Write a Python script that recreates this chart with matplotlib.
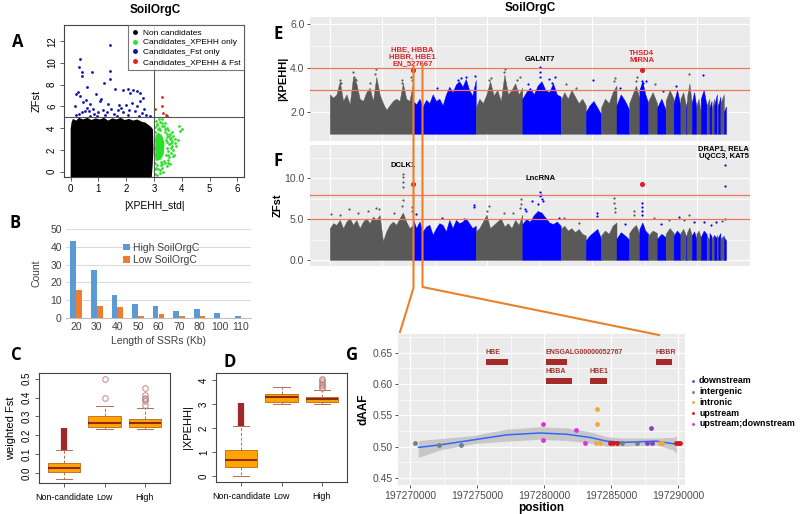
import numpy as np
import matplotlib
matplotlib.use('Agg')
import matplotlib.pyplot as plt
from matplotlib.lines import Line2D

plt.rcParams['font.family'] = ['Liberation Sans', 'DejaVu Sans']

# ---------------- panel A data ----------------
nc_edge_x = [0.0, 0.0, 0.03, 0.08, 0.2, 0.3, 0.45, 0.6, 0.75, 0.9, 1.05, 1.2, 1.35, 1.5, 1.65,
             1.8, 1.95, 2.1, 2.25, 2.4, 2.55, 2.7, 2.8, 2.9, 2.96, 2.98, 2.95, 2.92]
nc_edge_y = [-0.5, 3.9, 4.5, 4.85, 4.7, 4.95, 4.8, 4.95, 4.75, 4.9, 4.8, 4.95, 4.7, 4.9, 4.8,
             4.95, 4.75, 4.85, 4.7, 4.8, 4.6, 4.5, 4.3, 4.1, 3.9, 2.0, 0.5, -0.5]
green_core_x = [3.05, 3.05, 3.15, 3.3, 3.38, 3.35, 3.25]
green_core_y = [1.0, 3.3, 3.6, 3.3, 2.6, 1.6, 1.1]
green_x = [4.0, 3.9, 3.7, 3.75, 3.65, 3.55, 3.6, 3.55, 3.5, 3.45, 3.3, 3.2, 3.1, 3.5, 3.4, 3.3,
           3.2, 3.1, 3.05, 3.6, 3.8, 3.7, 3.45, 3.35, 3.25, 3.15, 3.42, 3.6, 3.38, 3.52, 3.48, 3.02,
           3.08, 3.22, 3.47, 3.56, 3.62, 3.68, 3.44, 3.5, 3.33, 3.12, 3.18, 3.27, 3.05, 3.58,
           3.02, 3.04, 3.03, 3.02, 3.04, 3.1, 3.12, 3.4, 3.45, 3.38, 3.28, 3.36, 3.14, 3.22,
           3.5, 3.55, 3.63, 3.72, 3.85, 3.92, 3.58, 3.3, 3.24, 3.08, 3.18, 3.45, 3.66, 3.77]
green_y = [3.9, 4.2, 3.3, 3.0, 2.8, 2.5, 1.7, 1.3, 0.8, 0.5, 0.3, -0.1, -0.3, 3.8, 4.5, 4.8,
           4.6, 4.4, 4.1, 2.2, 2.4, 2.0, 3.5, 1.0, 0.6, 0.2, 2.9, 3.1, 3.9, 1.9, 3.2, -0.2,
           0.3, 0.1, 2.7, 3.5, 2.6, 1.4, 1.5, 1.1, 0.0, 4.3, 4.0, 4.2, 0.2, 3.0,
           0.8, 1.5, 2.2, 2.9, 3.6, 0.6, 1.2, 3.6, 2.2, 0.8, 4.5, 4.2, 3.95, 3.8,
           1.5, 3.3, 2.4, 1.5, 2.9, 3.7, 0.7, 0.7, 0.9, 4.7, 4.85, 4.0, 3.6, 2.6]
blue_x = [1.4, 0.35, 0.3, 0.42, 0.75, 1.4, 0.4, 1.4, 1.2, 1.6, 0.6, 0.25, 0.2, 0.35, 0.9, 1.1,
          0.55, 0.45, 1.9, 2.05, 2.15, 2.25, 2.4, 2.5, 2.6, 1.05, 0.7, 0.6, 0.5, 0.4, 0.3, 0.65,
          0.8, 0.85, 1.0, 1.15, 1.3, 1.45, 1.55, 1.7, 1.8, 1.9, 2.0, 2.1, 2.2, 2.3, 2.4, 2.5,
          2.55, 2.65, 2.7, 0.2, 0.95, 1.25, 1.65, 2.05, 2.45, 1.35, 1.75, 0.7, 2.85, 0.15]
blue_y = [11.7, 10.4, 9.6, 9.2, 9.15, 9.3, 8.8, 8.5, 8.2, 7.6, 7.8, 7.3, 7.1, 7.0, 7.1, 6.7,
          6.6, 6.4, 7.5, 7.6, 7.2, 7.5, 7.4, 7.2, 6.8, 6.5, 6.2, 5.9, 5.6, 5.5, 5.3, 5.6,
          5.8, 5.3, 5.5, 5.7, 5.5, 5.8, 5.3, 5.7, 5.9, 5.5, 6.1, 5.7, 6.3, 5.6, 6.0, 6.5,
          5.4, 5.8, 5.2, 5.2, 5.1, 5.2, 5.1, 5.2, 5.1, 6.2, 6.1, 5.1, 5.1, 6.0]
red_x = [3.04, 3.3, 3.28, 3.33, 3.42, 3.48]
red_y = [5.75, 6.86, 6.06, 5.38, 5.23, 5.08]

# ---------------- panel B data ----------------
ssr_len = ['20', '30', '40', '50', '60', '70', '80', '100', '110']
high_count = [43, 27, 13, 8, 7, 4, 5, 3, 1]
low_count = [16, 7, 6, 1, 2, 1, 1, 0, 0]

# ---------------- panel C / D data ----------------
groups = ['Non-candidate', 'Low', 'High']
fst_box = [  # whislo, q1, med, q3, whishi
    [-0.03, 0.005, 0.025, 0.052, 0.12],
    [0.235, 0.245, 0.265, 0.305, 0.355],
    [0.235, 0.245, 0.263, 0.287, 0.345],
]
fst_out_low = [0.40, 0.50]
fst_out_high = [0.36, 0.38, 0.39, 0.40, 0.415, 0.45]
fst_nc_out = [0.12, 0.24]
xp_box = [
    [0.0, 0.38, 0.65, 1.07, 2.08],
    [3.0, 3.1, 3.27, 3.43, 3.72],
    [3.0, 3.1, 3.2, 3.3, 3.6],
]
xp_out_high = [3.68, 3.72, 3.78, 3.85, 3.92, 4.0, 4.05]
xp_nc_out = [2.08, 3.05]

# ---------------- panel E / F data ----------------
chrom_mb = [197.6, 149.7, 110.8, 91.3, 59.8, 36.4, 36.7, 30.2, 24.2, 21.1, 21.0, 20.4, 19.0, 16.2,
            13.1, 2.8, 11.0, 11.2, 10.3, 13.9, 6.8, 5.0, 6.2, 6.5, 3.1, 5.3, 8.2, 5.1]
xp_profile = [
    [2.8, 2.65, 2.8, 3.4, 2.5, 2.8, 2.35, 3.6, 3.3, 2.6, 2.5, 2.9, 3.1, 2.5, 3.6, 2.8,
     2.4, 2.1, 2.3, 2.5, 2.6, 2.5, 3.3, 2.6, 2.5, 3.3],
    [2.5, 2.35, 2.6, 2.25, 2.55, 2.4, 2.8, 2.5, 2.6, 2.3, 2.8, 3.15, 2.9, 3.25, 3.4, 3.15,
     3.5, 3.0, 2.75, 3.45],
    [2.2, 2.6, 2.4, 2.8, 3.4, 2.75, 3.0, 2.5, 3.7, 2.8, 3.0, 3.3, 2.8, 3.1],
    [2.6, 2.9, 3.1, 2.8, 3.2, 3.4, 3.0, 2.9, 3.3, 2.8, 2.7],
    [2.5, 2.9, 2.6, 3.0, 2.7, 2.4, 2.6, 2.3],
    [2.0, 2.3, 2.5, 2.2, 1.9], [2.2, 2.6, 2.4, 2.9, 3.2], [2.3, 2.8, 2.5, 2.1],
    [2.4, 2.8, 3.2, 2.6], [3.0, 3.4, 2.8, 2.4], [2.5, 2.9, 2.4], [2.2, 2.6, 2.1],
    [2.5, 3.0, 2.6], [2.4, 3.0, 2.3], [2.6, 2.9, 2.3], [2.2, 2.5], [2.7, 3.3, 2.4],
    [2.4, 2.9, 2.2], [2.3, 2.6, 2.0], [2.6, 3.0, 2.3], [2.3, 2.6], [2.2, 2.5],
    [2.1, 2.6], [2.3, 2.8], [2.0, 2.4], [2.3, 2.7], [2.4, 2.8], [2.0, 2.25],
]
xp_dots = [  # chromosome, fraction along it, value
    (1, 0.12, 3.45), (1, 0.14, 3.3), (1, 0.28, 3.8), (1, 0.29, 3.6), (1, 0.3, 3.5),
    (1, 0.32, 3.45), (1, 0.48, 3.3), (1, 0.55, 3.75), (1, 0.56, 3.97), (1, 0.87, 3.3),
    (1, 0.87, 3.45), (1, 0.98, 3.6), (1, 0.99, 3.45),
    (2, 0.38, 3.1), (2, 0.72, 3.45), (2, 0.77, 3.55), (2, 0.84, 3.6), (2, 0.99, 3.65),
    (3, 0.28, 3.45), (3, 0.32, 3.55), (3, 0.6, 3.8), (3, 0.62, 3.97), (3, 0.88, 3.45),
    (3, 0.95, 3.6),
    (4, 0.16, 3.25), (4, 0.47, 3.6), (4, 0.47, 3.8), (4, 0.47, 4.05), (4, 0.69, 3.5),
    (4, 0.78, 3.3), (4, 0.85, 3.6),
    (5, 0.2, 3.25), (5, 0.6, 3.1), (6, 0.49, 3.45), (7, 0.85, 3.4), (7, 0.89, 3.55),
    (8, 0.3, 3.1), (9, 0.7, 3.4), (9, 0.73, 3.6), (10, 0.29, 3.4), (10, 0.4, 3.3),
    (10, 0.71, 3.4), (11, 0.77, 3.25), (12, 0.71, 2.95), (14, 0.4, 3.2), (17, 0.5, 3.75),
    (20, 0.4, 3.7),
]
fst_profile = [
    [3.9, 4.5, 4.3, 4.9, 3.9, 4.7, 5.1, 4.3, 4.9, 3.9, 4.7, 5.1, 4.5, 5.3, 4.9, 5.5,
     2.3, 3.5, 4.3, 4.7, 4.3, 5.1, 5.8, 4.7, 3.9, 4.3],
    [5.1, 3.9, 4.7, 3.5, 4.1, 4.3, 3.1, 3.9, 4.5, 4.3, 3.5, 4.9, 3.9, 4.9, 4.5, 4.7,
     5.1, 4.5, 3.9, 4.2],
    [3.5, 3.9, 4.7, 5.55, 3.9, 4.3, 4.7, 5.1, 4.1, 4.5, 3.9, 4.9, 4.3, 5.55],
    [4.4, 5.0, 4.7, 5.5, 6.0, 5.8, 5.2, 4.6, 4.4, 4.7, 4.2],
    [3.8, 4.2, 3.6, 3.9, 3.4, 3.8, 3.2, 3.0],
    [2.4, 3.0, 3.4, 3.8, 2.6], [3.0, 3.6, 3.2, 4.2, 4.6], [2.6, 3.4, 3.0, 2.5],
    [3.3, 3.9, 4.3, 3.2], [3.8, 4.6, 3.6, 3.2], [3.0, 3.6, 3.3], [2.6, 3.2, 2.8],
    [3.2, 3.9, 3.3], [3.0, 3.6, 3.1], [3.3, 3.8, 3.0], [2.8, 3.2], [3.4, 4.0, 3.0],
    [3.0, 3.5, 2.6], [3.2, 3.6, 2.8], [2.8, 3.6, 3.2], [3.0, 2.5], [3.3, 2.9],
    [2.6, 3.1], [3.0, 2.7], [3.1, 2.6], [2.8, 3.3], [2.6, 3.0], [2.8, 2.4],
]
fst_dots = [
    (1, 0.02, 5.6), (1, 0.12, 5.5), (1, 0.23, 6.2), (1, 0.34, 5.8), (1, 0.46, 6.0),
    (1, 0.56, 6.4), (1, 0.59, 6.2), (1, 0.77, 5.8), (1, 0.87, 6.6), (1, 0.88, 7.3),
    (1, 0.885, 10.5), (1, 0.885, 10.1), (1, 0.885, 9.5), (1, 0.885, 8.9),
    (1, 0.99, 6.5), (1, 0.995, 6.0),
    (2, 0.05, 5.6), (2, 0.47, 5.1), (2, 0.82, 5.0), (2, 0.97, 6.5), (2, 0.98, 6.7),
    (3, 0.25, 6.0), (3, 0.28, 6.6), (3, 0.6, 5.8), (3, 0.8, 5.7), (3, 0.96, 6.4),
    (3, 0.97, 6.9), (3, 0.98, 7.4),
    (4, 0.07, 6.2), (4, 0.1, 6.0), (4, 0.25, 7.2), (4, 0.4, 6.8), (4, 0.45, 8.3),
    (4, 0.47, 7.8), (4, 0.5, 8.0), (4, 0.52, 7.5), (4, 0.55, 7.2), (4, 0.96, 5.1),
    (5, 0.13, 5.1), (5, 0.73, 4.5), (6, 0.73, 5.4), (6, 0.73, 5.75),
    (7, 0.85, 7.0), (7, 0.85, 7.6), (7, 0.88, 6.3), (7, 0.9, 5.9), (8, 0.63, 4.4),
    (9, 0.5, 5.5), (9, 0.5, 6.0), (10, 0.29, 5.5), (10, 0.29, 6.0), (10, 0.29, 6.5),
    (10, 0.29, 7.0), (11, 0.64, 5.1), (12, 0.43, 4.4), (13, 0.42, 4.9), (14, 0.8, 5.3),
    (15, 0.6, 4.9), (17, 0.44, 5.55), (18, 0.5, 4.6), (20, 0.5, 4.6), (22, 0.5, 4.3),
    (24, 0.5, 4.7), (27, 0.5, 4.8), (28, 0.5, 5.0), (28, 0.5, 9.1), (28, 0.5, 11.6),
]
xp_hits = [(1, 0.998, 3.9), (10, 0.29, 3.93)]
fst_hits = [(1, 0.998, 9.34), (10, 0.29, 9.34)]

# ---------------- panel G data ----------------
snp_pos = [197270373, 197272161, 197273776, 197279938, 197279938, 197282373, 197283043,
           197283863, 197283988, 197283988, 197284161, 197284907, 197285155, 197285478,
           197285851, 197286969, 197287689, 197288012, 197288062, 197288634, 197288832,
           197289876, 197290000, 197290124]
snp_daaf = [0.5054, 0.5027, 0.5027, 0.536, 0.5113, 0.5274, 0.5054,
            0.5054, 0.5608, 0.536, 0.5054, 0.5054, 0.5054, 0.5054,
            0.5054, 0.5054, 0.5054, 0.5301, 0.5054, 0.5054, 0.5054,
            0.5054, 0.5054, 0.5054]
snp_type = ['intergenic', 'intergenic', 'intergenic', 'upstream;downstream', 'upstream;downstream',
            'upstream;downstream', 'upstream;downstream', 'intronic', 'intronic', 'intronic',
            'intronic', 'upstream', 'upstream', 'upstream', 'intergenic', 'intergenic',
            'downstream', 'downstream', 'downstream', 'intronic', 'intronic',
            'upstream', 'upstream', 'upstream']
type_names = ['downstream', 'intergenic', 'intronic', 'upstream', 'upstream;downstream']
type_colors = ['#7E44C4', '#6F7F8F', '#F2A93B', '#D2181C', '#E030E0']
fit_pos = [197270621, 197272236, 197274720, 197277205, 197279689, 197281677, 197283416,
           197284658, 197285901, 197287143, 197288385, 197289627, 197289876]
fit_y = [0.499, 0.503, 0.511, 0.519, 0.522, 0.520, 0.515, 0.509, 0.507, 0.508, 0.509, 0.505, 0.504]
fit_hi = [0.510, 0.513, 0.518, 0.528, 0.532, 0.530, 0.524, 0.516, 0.514, 0.514, 0.514, 0.515, 0.517]
fit_lo = [0.483, 0.495, 0.505, 0.509, 0.512, 0.510, 0.506, 0.501, 0.501, 0.502, 0.503, 0.495, 0.490]
gene_names = ['HBE', 'ENSGALG00000052767', 'HBBR', 'HBBA', 'HBE1']
gene_start = [197275665, 197280112, 197288335, 197280112, 197283416]
gene_end = [197277330, 197281677, 197289553, 197282100, 197284708]
gene_row = [0.635, 0.635, 0.635, 0.605, 0.605]

W, H = 800, 514
fig = plt.figure(figsize=(8, 5.14), dpi=100)


def box(l, t, r, b):
    return fig.add_axes([l / W, 1 - b / H, (r - l) / W, (b - t) / H])


def r_style(ax):
    for s in ax.spines.values():
        s.set_color('#444444')
        s.set_linewidth(0.8)
    ax.tick_params(labelsize=7, length=3, width=0.6, color='#444444', pad=2)
    for lab in ax.get_yticklabels():
        lab.set_rotation(90)
        lab.set_va('center')


def gg_style(ax):
    ax.set_facecolor('#EBEBEB')
    for s in ax.spines.values():
        s.set_visible(False)
    ax.tick_params(labelsize=7.5, length=2.5, width=0.6, color='#333333',
                   labelcolor='#4D4D4D', pad=1.5)


def panel_letter(x, y, s):
    fig.text(x / W, 1 - y / H, s, fontsize=12, fontweight='bold',
             family=['Open Sans', 'DejaVu Sans'], ha='center', va='center')


# ================= A =================
ax = box(64, 25, 244, 177)
ax.fill(nc_edge_x, nc_edge_y, color='black', lw=0, zorder=2)
ax.fill(green_core_x, green_core_y, color='#2BE02B', lw=0, zorder=2)
ax.scatter(green_x, green_y, s=4, color='#2BE02B', lw=0, zorder=3)
ax.scatter(blue_x, blue_y, s=4, color='#1010B0', lw=0, zorder=3)
ax.scatter(red_x, red_y, s=4, color='#DD2222', lw=0, zorder=3)
ax.axhline(5, color='#555555', lw=0.8, zorder=4)
ax.axvline(3, color='#555555', lw=0.8, zorder=4)
ax.set_xlim(-0.24, 6.24)
ax.set_ylim(-0.5, 13.5)
ax.set_xticks(range(0, 7))
ax.set_yticks(range(0, 13, 2))
r_style(ax)
ax.set_xlabel('|XPEHH_std|', fontsize=7.5, labelpad=5)
ax.set_ylabel('ZFst', fontsize=8, labelpad=4)
leg_h = [Line2D([], [], ls='', marker='o', ms=2.5, color=c)
         for c in ['black', '#2BE02B', '#1010B0', '#DD2222']]
lg = ax.legend(leg_h, ['Non candidates', 'Candidates_XPEHH only', 'Candidates_Fst only',
                       'Candidates_XPEHH & Fst'],
               loc='upper right', fontsize=6.0, frameon=True, fancybox=False,
               borderaxespad=0, handlelength=0.8, handletextpad=0.5, labelspacing=0.25,
               borderpad=0.45)
lg.get_frame().set_edgecolor('#555555')
lg.get_frame().set_linewidth(0.8)
fig.text(155 / W, 1 - 10 / H, 'SoilOrgC', fontsize=8.5, fontweight='bold', ha='center', va='center')

# ================= B =================
ax = box(66, 229, 251, 318)
idx = np.arange(len(ssr_len))
ax.bar(idx - 0.145, high_count, width=0.28, color='#5B9BD5', zorder=3, label='High SoilOrgC')
ax.bar(idx + 0.145, low_count, width=0.28, color='#ED7D31', zorder=3, label='Low SoilOrgC')
ax.set_xlim(-0.5, 8.5)
ax.set_ylim(0, 50)
ax.set_yticks(range(0, 51, 10))
ax.set_xticks(idx)
ax.set_xticklabels(ssr_len)
ax.grid(axis='y', color='#D9D9D9', lw=0.7, zorder=0)
for s in ['top', 'right', 'left']:
    ax.spines[s].set_visible(False)
ax.spines['bottom'].set_color('#BFBFBF')
ax.tick_params(length=0, labelsize=7.5, colors='#404040', pad=3)
ax.set_xlabel('Length of SSRs (Kb)', fontsize=7.5, color='#404040', labelpad=3)
ax.set_ylabel('Count', fontsize=7.5, color='#404040', labelpad=6)
ax.legend(loc='upper left', bbox_to_anchor=(0.26, 0.95), frameon=False, fontsize=7.5,
          handlelength=0.6, handleheight=0.6, handletextpad=0.3, labelspacing=0.2,
          labelcolor='#404040')

# ================= C & D =================
box_kw = dict(patch_artist=True, widths=0.8, showfliers=True,
              boxprops=dict(facecolor='#FFA500', edgecolor='#C8702A', lw=0.7),
              medianprops=dict(color='#8B2A10', lw=1.5),
              whiskerprops=dict(color='#B07050', lw=0.7, ls=(0, (3, 2))),
              capprops=dict(color='#B07050', lw=0.7),
              flierprops=dict(marker='o', mfc='none', mec='#C08585', ms=4, mew=0.7))


def draw_box(ax, rows, outs, nc_out):
    stats = []
    for g, r, o in zip(groups, rows, outs):
        stats.append(dict(label=g, whislo=r[0], q1=r[1], med=r[2], q3=r[3], whishi=r[4], fliers=o))
    ax.bxp(stats, positions=[1, 2, 3], **box_kw)
    ax.vlines(1, nc_out[0], nc_out[1], color='#A0282A', lw=4.5, zorder=4)
    ax.set_xlim(0.38, 3.62)


ax = box(39, 373, 170, 483)
draw_box(ax, fst_box, [[], fst_out_low, fst_out_high], fst_nc_out)
ax.set_ylim(-0.052, 0.53)
ax.set_yticks(np.arange(0, 0.51, 0.1))
ax.set_yticklabels(['0.0', '0.1', '0.2', '0.3', '0.4', '0.5'])
r_style(ax)
ax.tick_params(axis='x', labelsize=6.4, pad=4)
ax.set_ylabel('weighted Fst', fontsize=8, labelpad=4)

ax = box(216, 373, 347, 482)
draw_box(ax, xp_box, [[], [], xp_out_high], xp_nc_out)
ax.set_ylim(-0.25, 4.29)
ax.set_yticks(range(0, 5))
r_style(ax)
ax.tick_params(axis='x', labelsize=6.4, pad=4)
ax.set_ylabel('|XPEHH|', fontsize=8, labelpad=4)

# ================= E & F =================
starts = np.concatenate([[0], np.cumsum(chrom_mb)[:-1]])
total = sum(chrom_mb)
chrom_cols = ['#595959', '#0000FF']


def pos(c, f):
    return starts[c - 1] + f * chrom_mb[c - 1]


def manhattan(ax, profiles, dots, base):
    for i, prof in enumerate(profiles):
        col = chrom_cols[i % 2]
        xs = np.linspace(starts[i], starts[i] + chrom_mb[i], len(prof))
        ax.fill_between(xs, base, prof, color=col, lw=0.3, edgecolor=col, zorder=2)
    for c, f, h in dots:
        col = chrom_cols[(c - 1) % 2]
        ax.scatter([pos(c, f)], [h], s=2.5, color=col, lw=0, zorder=3)
    ax.set_xlim(-0.05 * total, 1.05 * total)
    ax.set_xticks(np.arange(0, total + 60, 125))
    ax.set_xticklabels([])
    ax.tick_params(axis='x', length=0)
    ax.grid(axis='x', color='white', lw=0.8, zorder=0)
    ax.set_axisbelow(True)


ax = box(310, 17, 750, 141)
gg_style(ax)
manhattan(ax, xp_profile, xp_dots, 1.0)
for yv in [2, 4, 6, 3, 5]:
    ax.axhline(yv, color='white', lw=0.9 if yv % 2 == 0 else 0.5, zorder=0)
for yv in [3.0, 4.0]:
    ax.axhline(yv, color='#F0765A', lw=0.9, zorder=4)
ax.scatter([pos(c, f) for c, f, h in xp_hits], [h for c, f, h in xp_hits],
           s=7, color='#E0202A', marker='o', zorder=5)
ax.set_ylim(0.67, 6.33)
ax.set_yticks([2, 4, 6])
ax.set_yticklabels(['2.0', '4.0', '6.0'])
ax.set_ylabel('|XPEHH|', fontsize=8, fontweight='bold', labelpad=1)
ax.text(pos(1, 0.998), 4.49, 'HBE, HBBA\nHBBR, HBE1\nEN_527667', color='#D9262A', fontsize=5.5,
        fontweight='bold', ha='center', va='center', linespacing=0.95)
ax.text(pos(4, 0.47), 4.4, 'GALNT7', color='black', fontsize=5.5, fontweight='bold',
        ha='center', va='center')
ax.text(pos(10, 0.29), 4.5, 'THSD4\nMiRNA', color='#D9262A', fontsize=5.5, fontweight='bold',
        ha='center', va='center', linespacing=0.95)
fig.text(530 / W, 1 - 8 / H, 'SoilOrgC', fontsize=8.5, fontweight='bold', ha='center', va='center')

ax = box(310, 145, 750, 266)
gg_style(ax)
manhattan(ax, fst_profile, fst_dots, 0.0)
for yv in [0, 5, 10, 2.5, 7.5, 12.5]:
    ax.axhline(yv, color='white', lw=0.9 if yv % 5 == 0 else 0.5, zorder=0)
for yv in [5.0, 8.0]:
    ax.axhline(yv, color='#F0765A', lw=0.9, zorder=4)
ax.scatter([pos(c, f) for c, f, h in fst_hits], [h for c, f, h in fst_hits],
           s=7, color='#E0202A', marker='o', zorder=5)
ax.set_ylim(-0.74, 14.07)
ax.set_yticks([0, 5, 10])
ax.set_yticklabels(['0.0', '5.0', '10.0'])
ax.set_ylabel('ZFst', fontsize=8, fontweight='bold', labelpad=1)
ax.text(pos(1, 0.88), 11.5, 'DCLK1', fontsize=5.5, fontweight='bold', ha='center', va='center')
ax.text(pos(4, 0.47), 10.0, 'LncRNA', fontsize=5.5, fontweight='bold', ha='center', va='center')
ax.text(pos(28, 0.0), 13.1, 'DRAP1, RELA\nUQCC3, KAT5', fontsize=5.5, fontweight='bold',
        ha='center', va='center', linespacing=0.95)

# ================= G =================
ax = box(398, 334, 685, 485)
gg_style(ax)
ax.fill_between(fit_pos, fit_lo, fit_hi, color='#BEBEBE', alpha=0.8, lw=0, zorder=2)
ax.plot(fit_pos, fit_y, color='#3366FF', lw=1.1, zorder=3)
for name, col in zip(type_names, type_colors):
    xs = [p for p, t in zip(snp_pos, snp_type) if t == name]
    ys = [v for v, t in zip(snp_daaf, snp_type) if t == name]
    ax.scatter(xs, ys, s=12, color=col, lw=0, zorder=4, label=name)
for g, s, e, r in zip(gene_names, gene_start, gene_end, gene_row):
    ax.bar(s, height=0.0098, width=e - s, bottom=r - 0.005, align='edge',
           color='#A52A2A', zorder=4)
    ax.text(s, r + 0.0155, g, fontsize=5, fontweight='bold', color='#A0322E',
            ha='left', va='center')
ax.set_xlim(197269100, 197290520)
ax.set_ylim(0.439, 0.68)
ax.set_xticks(np.arange(197270000, 197290001, 5000))
ax.set_xticks(np.arange(197272500, 197290001, 5000), minor=True)
ax.set_yticks(np.arange(0.45, 0.651, 0.05))
ax.set_yticks(np.arange(0.475, 0.68, 0.05), minor=True)
ax.set_xticklabels([f'{v:d}' for v in np.arange(197270000, 197290001, 5000)])
ax.set_yticklabels([f'{v:.2f}' for v in np.arange(0.45, 0.651, 0.05)])
ax.grid(which='major', color='white', lw=0.9, zorder=0)
ax.grid(which='minor', color='white', lw=0.45, zorder=0)
ax.tick_params(which='minor', length=0)
ax.set_axisbelow(True)
ax.set_xlabel('position', fontsize=8.5, fontweight='bold', labelpad=1)
ax.set_ylabel('dAAF', fontsize=8.5, fontweight='bold', labelpad=2)
fig.legend(*ax.get_legend_handles_labels(), loc='upper left',
           bbox_to_anchor=(684 / W, 1 - 370 / H), frameon=False,
           prop=dict(size=6.4, weight='bold'), handlelength=0.6, handletextpad=0.4,
           labelspacing=0.2, markerscale=0.6, borderpad=0.2)

# connecting lines
for xs, ys in [([413.5, 413.5, 400], [66, 288, 332]), ([422.5, 422.5, 659], [66, 287, 335])]:
    fig.add_artist(Line2D([x / W for x in xs], [1 - y / H for y in ys],
                          transform=fig.transFigure, color='#E8822A', lw=1.5, zorder=10))

panel_letter(18, 42, 'A')
panel_letter(15, 223, 'B')
panel_letter(16, 355, 'C')
panel_letter(230, 362, 'D')
panel_letter(278, 34, 'E')
panel_letter(278, 161, 'F')
panel_letter(352, 355, 'G')

fig.savefig('out.png', dpi=100)
